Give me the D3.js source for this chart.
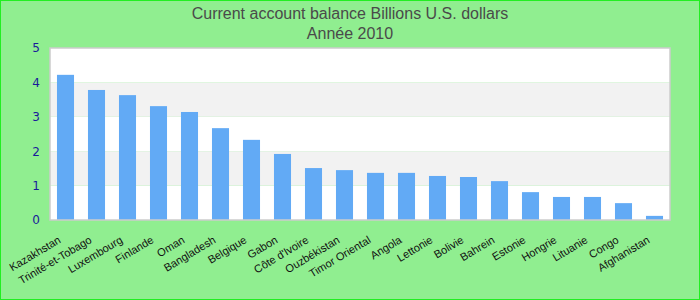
<!DOCTYPE html>
<html>
<head>
<meta charset="utf-8">
<script src="https://cdn.jsdelivr.net/npm/d3@7"></script>
<style>
  body { margin: 0; }
  svg { display: block; font-family: "Liberation Sans", Arial, sans-serif; }
</style>
</head>
<body>
<div id="chart"></div>
<script>
// data
const countries = ["Kazakhstan", "Trinité-et-Tobago", "Luxembourg", "Finlande", "Oman", "Bangladesh",
  "Belgique", "Gabon", "Côte d'Ivoire", "Ouzbékistan", "Timor Oriental", "Angola", "Lettonie",
  "Bolivie", "Bahrein", "Estonie", "Hongrie", "Lituanie", "Congo", "Afghanistan"];
const values = [4.22, 3.78, 3.63, 3.31, 3.14, 2.67, 2.33, 1.92, 1.51, 1.45, 1.37, 1.37, 1.28,
  1.25, 1.13, 0.81, 0.67, 0.67, 0.49, 0.12];
const yTicks = [0, 1, 2, 3, 4, 5];
const titleLines = ["Current account balance Billions U.S. dollars", "Année 2010"];

const size = {width: 700, height: 300};
const margin = {top: 48, right: 30, bottom: 80, left: 50};
const width = size.width - margin.left - margin.right;
const height = size.height - margin.top - margin.bottom;

const svg = d3.select("#chart").append("svg")
    .attr("width", size.width)
    .attr("height", size.height);

// background + outer border
svg.append("rect")
    .attr("x", 0.5).attr("y", 0.5)
    .attr("width", size.width - 1).attr("height", size.height - 1)
    .attr("fill", "#90ee90")
    .attr("stroke", "#22ee22");

svg.selectAll(".title")
    .data(titleLines)
    .join("text")
    .attr("class", "title")
    .attr("x", size.width / 2)
    .attr("y", (d, i) => 19 + i * 20)
    .attr("text-anchor", "middle")
    .attr("font-size", 16)
    .attr("fill", "#4a4a4a")
    .text(d => d);

const g = svg.append("g")
    .attr("transform", `translate(${margin.left},${margin.top})`);

const x = d3.scaleBand().domain(countries).range([0, width]).paddingInner(0.45).paddingOuter(0.225);
const y = d3.scaleLinear().domain([0, 5]).range([height, 0]);

// alternating bands
g.selectAll(".band")
    .data(yTicks.slice(0, -1))
    .join("rect")
    .attr("class", "band")
    .attr("x", 0)
    .attr("y", d => y(d + 1))
    .attr("width", width)
    .attr("height", d => y(d) - y(d + 1))
    .attr("fill", d => d % 2 === 1 ? "#f2f2f2" : "#ffffff");

g.selectAll(".bar")
    .data(values)
    .join("rect")
    .attr("class", "bar")
    .attr("x", (d, i) => x(countries[i]))
    .attr("y", d => y(d))
    .attr("width", x.bandwidth())
    .attr("height", d => y(0) - y(d))
    .attr("fill", "#62aaf5");

// plot frame
g.append("rect")
    .attr("x", 0).attr("y", 0)
    .attr("width", width).attr("height", height)
    .attr("fill", "none")
    .attr("stroke", "#cccccc")
    .attr("stroke-width", 1.5);

// y axis labels
const yAxis = g.append("g")
    .call(d3.axisLeft(y).tickValues(yTicks).tickSize(0).tickPadding(10).tickFormat(d3.format("d")));
yAxis.select(".domain").remove();
yAxis.selectAll("text")
    .attr("font-size", 12)
    .attr("font-family", "DejaVu Sans, sans-serif")
    .attr("fill", "#1a1a9a");

// x axis labels, rotated
const xAxis = g.append("g")
    .attr("transform", `translate(0,${height})`)
    .call(d3.axisBottom(x).tickSize(0).tickPadding(0));
xAxis.select(".domain").remove();
xAxis.selectAll("text")
    .attr("font-size", 11)
    .attr("fill", "#111")
    .attr("text-anchor", "end")
    .attr("dy", null)
    .attr("y", 0)
    .attr("transform", "translate(-4,22) rotate(-31)");
</script>
</body>
</html>
